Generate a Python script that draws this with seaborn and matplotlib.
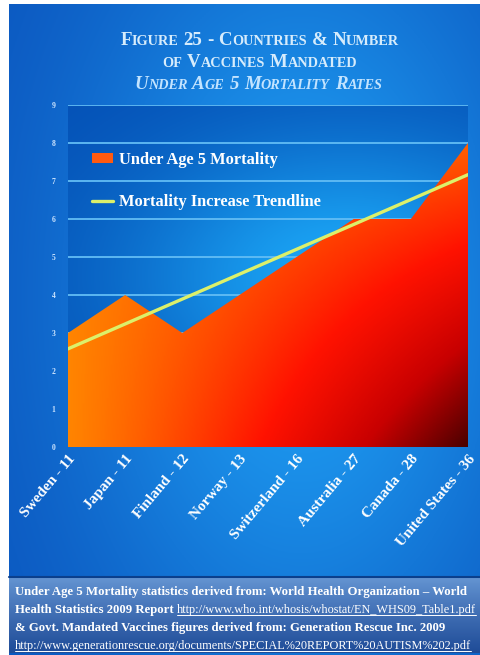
import numpy as np
import pandas as pd
import seaborn as sns
import matplotlib.pyplot as plt
from matplotlib.colors import LinearSegmentedColormap, to_rgb
from matplotlib.patches import Patch
from matplotlib.lines import Line2D

# data
countries = ["Sweden - 11", "Japan - 11", "Finland - 12", "Norway - 13",
             "Switzerland - 16", "Australia - 27", "Canada - 28", "United States - 36"]
mortality = [3, 4, 3, 4, 5, 6, 6, 8]
y_ticks = list(range(0, 10))
legend_labels = ["Under Age 5 Mortality", "Mortality Increase Trendline"]
title_lines = ["Figure 25 - Countries & Number", "of Vaccines Mandated",
               "Under Age 5 Mortality Rates"]
footer_plain = ["Under Age 5 Mortality statistics derived from: World Health Organization \u2013 World",
                "Health Statistics 2009 Report ",
                "& Govt. Mandated Vaccines figures derived from: Generation Rescue Inc. 2009",
                ""]
footer_links = ["",
                "http://www.who.int/whosis/whostat/EN_WHS09_Table1.pdf",
                "",
                "http://www.generationrescue.org/documents/SPECIAL%20REPORT%20AUTISM%202.pdf"]

df = pd.DataFrame({"country": countries, "pos": range(len(countries)), "mortality": mortality})

sns.set_theme(style="white")
plt.rcParams["font.family"] = ["Liberation Serif", "DejaVu Serif"]

W, H = 481, 655
fig = plt.figure(figsize=(W / 100, H / 100), dpi=100, facecolor="white")


def blend(c0, c1, w):
    c0, c1 = np.array(to_rgb(c0)), np.array(to_rgb(c1))
    return c0 * (1 - w[..., None]) + c1 * w[..., None]


# page background
bg = fig.add_axes([9 / W, 0, 472 / W, 651 / H])
bg.axis("off")
yy, xx = np.mgrid[0:1:300j, 0:1:240j]
w = np.exp(-((xx - 0.62) / 0.5) ** 2 - ((yy - 0.45) / 0.6) ** 2)
bg.imshow(blend("#0a52bc", "#1e9cf2", w), extent=[0, 1, 0, 1], aspect="auto", origin="upper")
bg.set_xlim(0, 1)
bg.set_ylim(0, 1)

# footer box
ft = fig.add_axes([9 / W, 2 / H, 472 / W, 75 / H])
ft.axis("off")
fy, fx = np.mgrid[0:1:60j, 0:1:10j]
ft.imshow(blend("#6494d2", "#1f4c98", fy ** 0.9), extent=[0, 1, 0, 1], aspect="auto", origin="upper")
ft.set_xlim(0, 1)
ft.set_ylim(0, 1)
fig.add_artist(Line2D([9 / W, 1], [1 - 577 / H] * 2, color="#0b3f8c", lw=1.5))

# plot area
ax = fig.add_axes([68 / W, 1 - 447 / H, 400 / W, 342 / H])
py, px = np.mgrid[0:1:200j, 0:1:200j]
pw = np.exp(-((px - 0.7) / 0.55) ** 2 - ((py - 0.5) / 0.42) ** 2)
ax.imshow(blend("#044fb5", "#1ba6f6", pw), extent=[0, 7, 0, 9], aspect="auto",
          origin="upper", zorder=0)

poly = ax.fill_between(df["pos"], 0, df["mortality"], facecolor="none", edgecolor="none", zorder=2)
cmap = LinearSegmentedColormap.from_list(
    "area", ["#ffa000", "#ff5a00", "#ff1200", "#c80000", "#4a0000"])
ay, axx = np.mgrid[0:1:300j, 0:1:300j]
t = 0.1 + 0.9 * axx ** 1.1 * ay ** 0.9
area_img = ax.imshow(cmap(t), extent=[0, 7, 0, 9], aspect="auto", origin="upper", zorder=2)
area_img.set_clip_path(poly.get_paths()[0], ax.transData)

sns.regplot(data=df, x="pos", y="mortality", scatter=False, ci=None, truncate=True, ax=ax,
            line_kws=dict(color="#dcf06a", lw=2.4, zorder=4))

ax.set_xlim(0, 7)
ax.set_ylim(0, 9)
ax.set_xlabel("")
ax.set_ylabel("")
ax.set_yticks(y_ticks)
ax.set_yticklabels([str(v) for v in y_ticks], fontsize=5.5, color="#cfe6ff", weight="bold")
ax.set_xticks(df["pos"])
ax.set_xticklabels(countries, rotation=50, ha="right", rotation_mode="anchor",
                   fontsize=11, weight="bold", color="white")
ax.tick_params(axis="y", length=0, pad=9)
ax.tick_params(axis="x", length=0, pad=4)
ax.grid(axis="y", color="#62bdf5", lw=1.3)
ax.set_axisbelow(True)
for s in ax.spines.values():
    s.set_visible(False)

handles = [Patch(facecolor="#ff5a10", edgecolor="none"),
           Line2D([0], [0], color="#dcf06a", lw=2.4)]
ax.legend(handles, legend_labels, loc="center left", bbox_to_anchor=(0.06, 0.778),
          frameon=False, prop=dict(size=11.8, weight="bold"), labelcolor="white",
          handlelength=1.3, handleheight=0.55, handletextpad=0.35, labelspacing=1.6,
          borderpad=0, borderaxespad=0)

renderer = fig.canvas.get_renderer()


def small_caps(text, xc, y, big, small, **kw):
    # fake small caps: capitals at big size, lower case letters upper-cased at small size
    pieces = []
    gap = 0.26 * big * 100 / 72
    cursor = 0
    for word in text.split(" "):
        runs = []
        for ch in word:
            size = small if ch.islower() else big
            if runs and runs[-1][1] == size:
                runs[-1][0] += ch.upper()
            else:
                runs.append([ch.upper(), size])
        for s, size in runs:
            tx = fig.text(0, y, s, fontsize=size, va="baseline", **kw)
            wpx = tx.get_window_extent(renderer).width
            pieces.append((tx, cursor))
            cursor += wpx
        cursor += gap
    cursor -= gap
    x0 = xc * W - cursor / 2
    for tx, off in pieces:
        tx.set_x((x0 + off) / W)


title_kw = dict(color="#d6ecfc", weight="bold")
small_caps(title_lines[0], 0.54, 1 - 45 / H, 13.6, 10.3, **title_kw)
small_caps(title_lines[1], 0.54, 1 - 67 / H, 13.6, 10.3, **title_kw)
small_caps(title_lines[2], 0.537, 1 - 89 / H, 13.6, 10.3, color="#c3e4ff", weight="bold",
           style="italic")

# footer text with underlined links
line_y = [595, 613, 631, 649]
for plain, link, yp in zip(footer_plain, footer_links, line_y):
    x = 15
    if plain:
        tp = fig.text(x / W, 1 - yp / H, plain, fontsize=9.2, weight="bold", color="white",
                      va="baseline")
        x += tp.get_window_extent(renderer).width
    if link:
        tl = fig.text(x / W, 1 - yp / H, link, fontsize=8.8, color="white", va="baseline")
        bb = tl.get_window_extent(renderer)
        fig.add_artist(Line2D([bb.x0 / W, bb.x1 / W], [1 - (yp + 1.5) / H] * 2,
                              color="white", lw=0.7))

fig.savefig("out.png", dpi=100)
